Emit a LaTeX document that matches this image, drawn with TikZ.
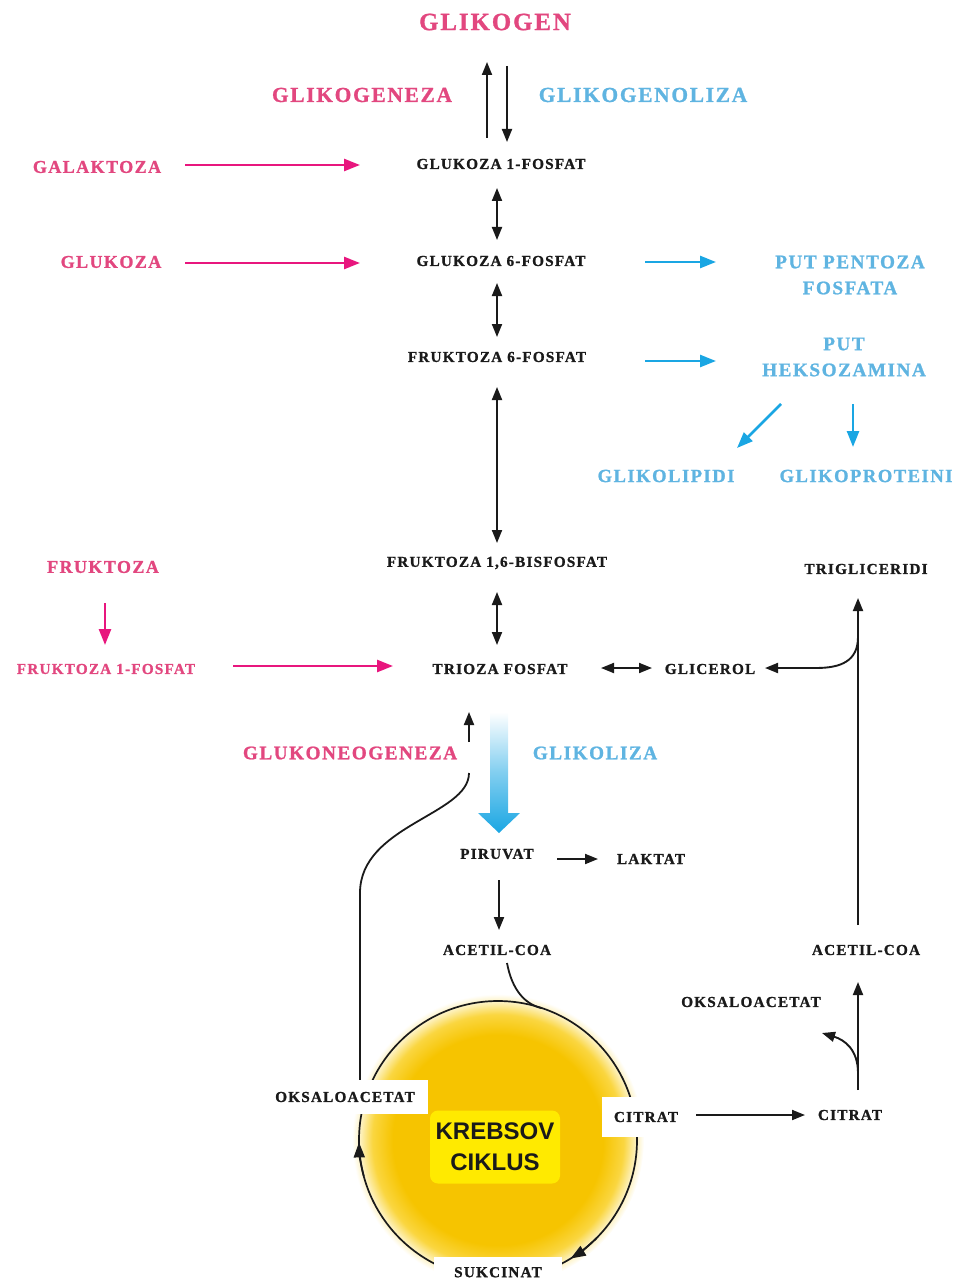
\documentclass[tikz,border=0pt]{standalone}
\usepackage{fontspec}
\setmainfont{Liberation Serif}
\newfontfamily\lab[LetterSpace=8, BoldFeatures={FakeBold=1.1}]{Liberation Serif}
\newfontfamily\kreb{Liberation Sans}
\usetikzlibrary{arrows.meta}
\definecolor{pinkT}{HTML}{E2477F}
\definecolor{pinkA}{HTML}{E8167E}
\definecolor{blueT}{HTML}{5FB4E1}
\definecolor{blueA}{HTML}{1AA6E3}
\definecolor{blackT}{HTML}{1A1A1A}
\definecolor{gold1}{HTML}{F6C400}
\definecolor{gold2}{HTML}{FAD640}
\definecolor{gold3}{HTML}{FDF0B8}
\definecolor{kbox}{HTML}{FFEA00}
\pgfdeclareradialshading{krebsglow}{\pgfpoint{0bp}{0bp}}{color(0bp)=(gold1); color(18bp)=(gold1); color(21.5bp)=(gold2); color(23.5bp)=(gold3); color(25bp)=(white); color(50bp)=(white)}
\begin{document}
\begin{tikzpicture}[x=1pt,y=-1pt,
  blk/.style={font=\lab\bfseries\fontsize{15.2}{18}\selectfont, text=blackT, inner sep=1pt},
  pnkS/.style={font=\lab\bfseries\fontsize{18}{21}\selectfont, text=pinkT, inner sep=1pt},
  pnkF/.style={font=\lab\bfseries\fontsize{15.2}{18}\selectfont, text=pinkT, inner sep=1pt},
  pnkB/.style={font=\lab\bfseries\fontsize{21.4}{24}\selectfont, text=pinkT, inner sep=1pt},
  pnkM/.style={font=\lab\bfseries\fontsize{19.2}{22}\selectfont, text=pinkT, inner sep=1pt},
  bluB/.style={font=\lab\bfseries\fontsize{21.4}{24}\selectfont, text=blueT, inner sep=1pt},
  bluG/.style={font=\lab\bfseries\fontsize{19.2}{22}\selectfont, text=blueT, inner sep=1pt},
  bluM/.style={font=\lab\bfseries\fontsize{19.2}{26}\selectfont, text=blueT, inner sep=1pt, align=center},
  bluS/.style={font=\lab\bfseries\fontsize{18.6}{21}\selectfont, text=blueT, inner sep=1pt},
  wbox/.style={blk, fill=white},
  barr/.style={draw=blackT, line width=1.9pt, -{Triangle[length=13pt,width=10pt]}},
  bdbl/.style={draw=blackT, line width=1.9pt, {Triangle[length=13pt,width=10pt]}-{Triangle[length=13pt,width=10pt]}},
  parr/.style={draw=pinkA, line width=2.5pt, -{Triangle[length=16pt,width=12pt]}},
  larr/.style={draw=blueA, line width=2.5pt, -{Triangle[length=16pt,width=12pt]}},
  bline/.style={draw=blackT, line width=1.8pt}
]
\useasboundingbox (0,0) rectangle (958,1281);

% ---- Krebs circle background
\shade[shading=krebsglow] (498,1140) circle[radius=146];
\draw[blackT, line width=1.7pt] (498,1140) circle[radius=139];
\draw[blackT, line width=1.7pt, -{Triangle[length=15pt,width=11pt]}] (498,1140) ++(45:139) arc[start angle=45, end angle=58.5, radius=139];
\draw[blackT, line width=1.7pt, -{Triangle[length=15pt,width=11pt]}] (498,1140) ++(165:139) arc[start angle=165, end angle=179, radius=139];

% ---- nodes
\node[font=\lab\bfseries\fontsize{24.8}{28}\selectfont, text=pinkT, inner sep=1pt] (glikogen) at (495,22) {GLIKOGEN};
\node[pnkB] (glikogeneza) at (362,95) {GLIKOGENEZA};
\node[bluB] (glikogenoliza) at (643,95) {GLIKOGENOLIZA};
\node[blk] (g1p) at (501,164) {GLUKOZA 1-FOSFAT};
\node[pnkS] (galaktoza) at (97,167) {GALAKTOZA};
\node[blk] (g6p) at (501,261) {GLUKOZA 6-FOSFAT};
\node[pnkS] (glukoza) at (111,262) {GLUKOZA};
\node[bluM] (ppf) at (850,275) {PUT PENTOZA\\FOSFATA};
\node[blk] (f6p) at (497,357) {FRUKTOZA 6-FOSFAT};
\node[bluM] (phex) at (844,357) {PUT\\HEKSOZAMINA};
\node[bluS] (glikolipidi) at (666,476) {GLIKOLIPIDI};
\node[bluS] (glikoproteini) at (866,476) {GLIKOPROTEINI};
\node[blk] (f16bp) at (497,563) {FRUKTOZA 1,6-BISFOSFAT};
\node[blk] (trigliceridi) at (866,569) {TRIGLICERIDI};
\node[pnkS] (fruktoza) at (103,567) {FRUKTOZA};
\node[pnkF] (f1p) at (106,669) {FRUKTOZA 1-FOSFAT};
\node[blk] (trioza) at (500,669) {TRIOZA FOSFAT};
\node[blk] (glicerol) at (710,669) {GLICEROL};
\node[pnkM] (glukoneo) at (350,753) {GLUKONEOGENEZA};
\node[bluG] (glikoliza) at (595,753) {GLIKOLIZA};
\node[blk] (piruvat) at (497,854) {PIRUVAT};
\node[blk] (laktat) at (651,859) {LAKTAT};
\node[blk] (acetil1) at (497,950) {ACETIL-COA};
\node[blk] (acetil2) at (866,950) {ACETIL-COA};
\node[blk] (oksal2) at (751,1002) {OKSALOACETAT};
\node[wbox, minimum width=166pt, minimum height=34pt] (oksal1) at (345,1097) {OKSALOACETAT};
\node[wbox, minimum width=88pt, minimum height=40pt] (citrat1) at (646,1117) {CITRAT};
\node[blk] (citrat2) at (850,1115) {CITRAT};
\node[wbox, minimum width=128pt, minimum height=30pt, anchor=north] (sukcinat) at (498,1257) {SUKCINAT};
\node[fill=kbox, rounded corners=8pt, minimum width=130pt, minimum height=73pt, align=center,
      font=\kreb\bfseries\fontsize{24}{31}\selectfont, text=blackT] (krebs) at (495,1147) {KREBSOV\\CIKLUS};

% ---- glycolysis gradient arrow
\shade[top color=white, bottom color=blueA, middle color=blueA!55] (490,712) -- (508,712) -- (508,813) -- (520,813) -- (499,833) -- (478,813) -- (490,813) -- cycle;

% ---- connectors
\draw[barr] ([shift={(-14,-26)}]g1p.center) -- ([shift={(-8,40)}]glikogen.center);
\draw[barr] ([shift={(12,44)}]glikogen.center) -- ([shift={(6,-22)}]g1p.center);
\draw[parr] ([shift={(88,-2)}]galaktoza.center) -- ([shift={(-141,1)}]g1p.center);
\draw[bdbl] ([shift={(-4,24)}]g1p.center) -- ([shift={(-4,-21)}]g6p.center);
\draw[parr] ([shift={(74,1)}]glukoza.center) -- ([shift={(-141,2)}]g6p.center);
\draw[larr] ([shift={(144,1)}]g6p.center) -- ([shift={(-134,-13)}]ppf.center);
\draw[bdbl] ([shift={(-4,22)}]g6p.center) -- ([shift={(0,-20)}]f6p.center);
\draw[larr] ([shift={(148,4)}]f6p.center) -- ([shift={(-128,4)}]phex.center);
\draw[larr] ([shift={(-63,47)}]phex.center) -- ([shift={(71,-28)}]glikolipidi.center);
\draw[larr] ([shift={(9,47)}]phex.center) -- ([shift={(-13,-29)}]glikoproteini.center);
\draw[bdbl] ([shift={(0,30)}]f6p.center) -- ([shift={(0,-20)}]f16bp.center);
\draw[bdbl] ([shift={(0,29)}]f16bp.center) -- ([shift={(-3,-24)}]trioza.center);
\draw[parr] ([shift={(2,36)}]fruktoza.center) -- ([shift={(-1,-24)}]f1p.center);
\draw[parr] ([shift={(127,-3)}]f1p.center) -- ([shift={(-107,-3)}]trioza.center);
\draw[bdbl] ([shift={(101,-1)}]trioza.center) -- ([shift={(-58,-1)}]glicerol.center);
\draw[barr] ([shift={(-8,-25)}]acetil2.center) -- ([shift={(-8,29)}]trigliceridi.center);
\draw[barr] ([shift={(-8,68)}]trigliceridi.center) .. controls ([shift={(-8,92)}]trigliceridi.center) and ([shift={(-25,99)}]trigliceridi.center) .. ([shift={(-50,99)}]trigliceridi.center) -- ([shift={(55,-1)}]glicerol.center);
\draw[barr] ([shift={(119,-11)}]glukoneo.center) -- ([shift={(-31,43)}]trioza.center);
\draw[bline] ([shift={(119,20)}]glukoneo.center) .. controls ([shift={(119,62)}]glukoneo.center) and ([shift={(10,72)}]glukoneo.center) .. ([shift={(10,140)}]glukoneo.center) -- ([xshift=15pt]oksal1.north);
\draw[barr] ([shift={(60,5)}]piruvat.center) -- ([shift={(-53,0)}]laktat.center);
\draw[barr] ([shift={(2,26)}]piruvat.center) -- ([shift={(2,-20)}]acetil1.center);
\draw[bline] ([shift={(10,13)}]acetil1.center) .. controls ([shift={(15,40)}]acetil1.center) and ([shift={(28,54)}]acetil1.center) .. ([shift={(44,58)}]acetil1.center);
\draw[barr] ([shift={(50,-2)}]citrat1.center) -- ([shift={(-45,0)}]citrat2.center);
\draw[barr] ([shift={(8,-25)}]citrat2.center) -- ([shift={(-8,32)}]acetil2.center);
\draw[barr] ([shift={(8,-42)}]citrat2.center) .. controls ([shift={(8,-65)}]citrat2.center) and ([shift={(-5,-75)}]citrat2.center) .. ([shift={(71,31)}]oksal2.center);
\end{tikzpicture}
\end{document}
